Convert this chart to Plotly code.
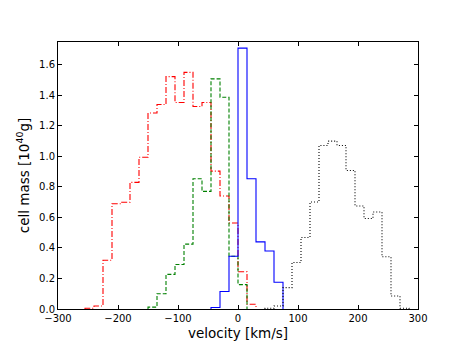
"""
Step histograms of cell mass against line-of-sight velocity.
"""

import plotly.graph_objects as go

BIN_WIDTH = 15  # km/s

# Each series: first bin edge and the heights of consecutive bins [1e40 g]
red_start = -255
red_mass = [0.005, 0.02, 0.32, 0.69, 0.70, 0.83, 0.995, 1.285, 1.34, 1.523,
            1.353, 1.551, 1.327, 1.353, 0.904, 0.741, 0.564, 0.244, 0.031]

green_start = -150
green_mass = [0.012, 0.10, 0.227, 0.292, 0.425, 0.854, 0.771, 1.508, 1.388,
              0.346, 0.16]

blue_start = -45
blue_mass = [0.01, 0.115, 0.346, 1.71, 0.854, 0.44, 0.38, 0.175]

black_start = 45
black_mass = [0.005, 0.02, 0.14, 0.305, 0.469, 0.701, 1.072, 1.1, 1.072,
              0.908, 0.675, 0.593, 0.636, 0.342, 0.085, 0.005]

x_ticks = [-300, -200, -100, 0, 100, 200, 300]
y_ticks = [0.0, 0.2, 0.4, 0.6, 0.8, 1.0, 1.2, 1.4, 1.6]


def _step_outline(start, heights):
    """Outline of a step histogram (matplotlib histtype='step' style)."""
    edges = [start + i * BIN_WIDTH for i in range(len(heights) + 1)]
    xs = [edges[0]] + edges
    ys = [0] + list(heights) + [0]
    return xs, ys


series = [
    (red_start, red_mass, "#ff0000", "6px,2px,1px,2px"),
    (green_start, green_mass, "#008000", "4px,2px"),
    (blue_start, blue_mass, "#0000ff", "solid"),
    (black_start, black_mass, "#000000", "1px,2px"),
]

fig = go.Figure()
for start, heights, color, dash in series:
    xs, ys = _step_outline(start, heights)
    fig.add_trace(go.Scatter(
        x=xs, y=ys, mode="lines",
        line=dict(shape="hv", color=color, width=1.1, dash=dash),
        showlegend=False, hoverinfo="skip",
    ))

axis_common = dict(
    showgrid=False, zeroline=False,
    showline=True, linecolor="#000000", linewidth=1, mirror="allticks",
    ticks="inside", ticklen=4, tickwidth=1, tickcolor="#000000",
    tickfont=dict(size=10, color="#000000", family="DejaVu Sans"),
)

# page body adds an 8px offset, so margins are shifted up-left to compensate
fig.update_layout(
    width=463, height=348,
    margin=dict(l=50, r=53, t=34, b=47),
    paper_bgcolor="#ffffff", plot_bgcolor="#ffffff",
    font=dict(family="DejaVu Sans", color="#000000"),
    xaxis=dict(
        range=[-300, 300], tickvals=x_ticks,
        title=dict(text="velocity [km/s]", font=dict(size=13.5), standoff=5),
        **axis_common,
    ),
    yaxis=dict(
        range=[0, 1.75], tickvals=y_ticks, tickformat=".1f",
        title=dict(text="cell mass [10<sup>40</sup>g]", font=dict(size=13.5), standoff=6),
        **axis_common,
    ),
)

fig.write_html("out.html")
